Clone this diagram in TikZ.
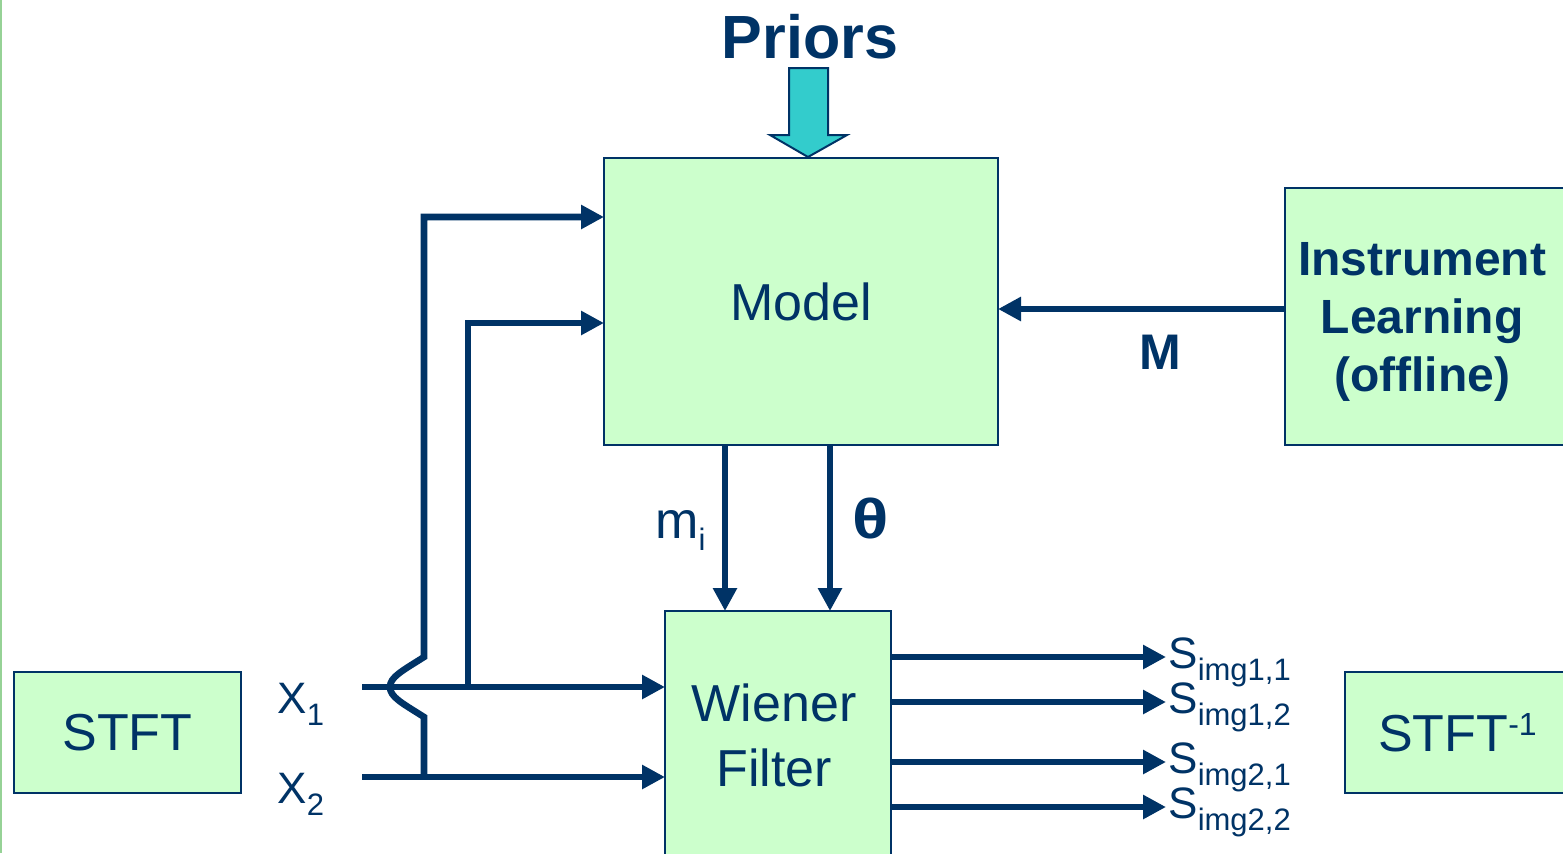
\documentclass[tikz,border=0pt]{standalone}
\usepackage{fontspec}
\setmainfont{Liberation Sans}
\usetikzlibrary{arrows.meta}
\definecolor{navy}{RGB}{0,51,102}
\definecolor{boxgreen}{RGB}{204,255,204}
\definecolor{priorteal}{RGB}{51,204,204}
\definecolor{edgegreen}{RGB}{150,210,150}
\newcommand\lowsub[1]{\raisebox{-6pt}{\fontsize{15.5}{16}\selectfont #1}}
\newcommand\highsup[1]{\raisebox{8pt}{\fontsize{16}{16}\selectfont #1}}
\begin{document}
\begin{tikzpicture}[x=0.5pt,y=-0.5pt,
  blk/.style={draw=navy, line width=1pt, fill=boxgreen, inner sep=0pt, outer sep=0pt,
    text=navy, font=\fontsize{26}{32.5}\selectfont, align=center},
  conn/.style={draw=navy, line width=3.3pt, -{Triangle[length=11.5pt,width=11.5pt]}},
  lbl/.style={text=navy, inner sep=0pt, font=\fontsize{22}{24}\selectfont},
  blbl/.style={text=navy, inner sep=0pt, font=\fontsize{25}{28}\bfseries\selectfont}]
\useasboundingbox (0,0) rectangle (1563,853);
\clip (0,0) rectangle (1563,853);
\fill[white] (0,0) rectangle (1563,853);
\draw[edgegreen, line width=1pt] (1,0) -- (1,853);

% blocks
\node[blk, minimum width=197pt, minimum height=143.5pt] (model) at (801,301.5) {Model};
\node[blk, minimum width=140pt, minimum height=128.5pt] (inst) at (1425,316.5) {};
\node[text=navy, align=center, inner sep=0pt, font=\fontsize{24}{29}\bfseries\selectfont]
  (insttext) at (1422,322) {Instrument\\Learning\\(offline)};
\node[blk, minimum width=113.5pt, minimum height=60.5pt] (stft) at (127.5,732.5) {STFT};
\node[blk, minimum width=112.5pt, minimum height=60.5pt] (istft) at (1457.5,732.5) {STFT\highsup{-1}};
\node[blk, minimum width=113pt, minimum height=129.5pt] (wf) at (778,740.5) {};
\node[text=navy, align=center, inner sep=0pt, font=\fontsize{26}{32.5}\selectfont]
  (wftext) at (774,735) {Wiener\\Filter};

% priors
\node[blbl, font=\fontsize{30.5}{32}\bfseries\selectfont] (priors) at (810,37) {Priors};
\draw[draw=navy, line width=1pt, fill=priorteal]
  (789,68) -- (828,68) -- (828,135) -- (847,135) -- (808,157) -- (770,135) -- (789,135) -- cycle;

% inputs
\coordinate (x1s) at (362,687);
\coordinate (x2s) at (362,777);
\draw[conn] (x1s) -- (wf.west |- x1s);
\draw[conn] (x2s) -- (wf.west |- x2s);
\node[lbl, anchor=base west] (x1) at (277,713) {X\lowsub{1}};
\node[lbl, anchor=base west] (x2) at (277,803) {X\lowsub{2}};

% feedback lines to model
\coordinate (j2) at (424,777);
\coordinate (c2b) at (424,717);
\coordinate (c2t) at (424,657);
\coordinate (top1) at (424,217);
\draw[conn] (j2) -- (c2b) .. controls (402,703) and (390,697) .. (390,687)
   .. controls (390,677) and (402,671) .. (c2t) -- (top1) -- (model.west |- top1);
\coordinate (j1) at (468,687);
\coordinate (top2) at (468,323);
\draw[conn] (j1) -- (top2) -- (model.west |- top2);

% model -> wiener
\coordinate (mx) at (725,0);
\coordinate (tx) at (830,0);
\draw[conn] (model.south -| mx) -- (wf.north -| mx);
\draw[conn] (model.south -| tx) -- (wf.north -| tx);
\node[lbl, font=\fontsize{26}{28}\selectfont, anchor=base west] (mi) at (655,538) {m\lowsub{i}};
\node[blbl, font=\fontsize{28}{30}\bfseries\selectfont] (theta) at (871,518) {\scalebox{1.2}[1]{θ}};

% instrument -> model
\coordinate (mrow) at (0,309);
\draw[conn] (inst.west |- mrow) -- (model.east |- mrow);
\node[blbl] (M) at (1160,352) {M};

% outputs
\coordinate (o1) at (1166,657);
\coordinate (o2) at (1166,702);
\coordinate (o3) at (1166,762);
\coordinate (o4) at (1166,807);
\draw[conn] (wf.east |- o1) -- (o1);
\draw[conn] (wf.east |- o2) -- (o2);
\draw[conn] (wf.east |- o3) -- (o3);
\draw[conn] (wf.east |- o4) -- (o4);
\node[lbl, anchor=base west] (s11) at (1168,668) {S\lowsub{img1,1}};
\node[lbl, anchor=base west] (s12) at (1168,713) {S\lowsub{img1,2}};
\node[lbl, anchor=base west] (s21) at (1168,773) {S\lowsub{img2,1}};
\node[lbl, anchor=base west] (s22) at (1168,818) {S\lowsub{img2,2}};
\end{tikzpicture}
\end{document}
